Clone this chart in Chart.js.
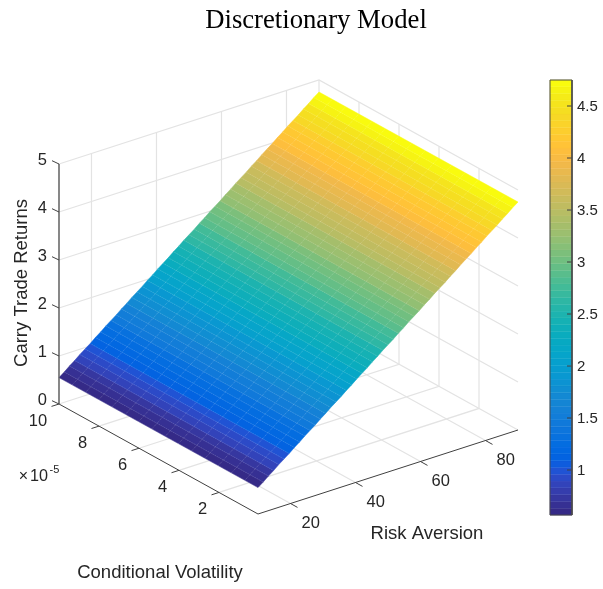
<!DOCTYPE html>
<html><head><meta charset="utf-8">
<style>html,body{margin:0;padding:0;background:#fff}canvas{display:block}</style>
<script src="https://cdn.jsdelivr.net/npm/chart.js@4/dist/chart.umd.js"></script>
</head><body><canvas id="c" width="603" height="589"></canvas>
<script>
// ---- data ----
const riskAversion=[10,11.6,13.2,14.8,16.4,18,19.6,21.2,22.8,24.4,26,27.6,29.2,30.8,32.4,34,35.6,37.2,38.8,40.4,42,43.6,45.2,46.8,48.4,50,51.6,53.2,54.8,56.4,58,59.6,61.2,62.8,64.4,66,67.6,69.2,70.8,72.4,74,75.6,77.2,78.8,80.4,82,83.6,85.2,86.8,88.4,90];
const carryReturns=[0.55,0.63,0.72,0.80,0.89,0.97,1.05,1.14,1.22,1.31,1.39,1.47,1.56,1.64,1.73,1.81,1.89,1.98,2.06,2.15,2.23,2.31,2.40,2.48,2.57,2.65,2.73,2.82,2.90,2.99,3.07,3.15,3.24,3.32,3.41,3.49,3.57,3.66,3.74,3.83,3.91,3.99,4.08,4.16,4.25,4.33,4.41,4.50,4.58,4.67,4.75];
const volatility=[0.05,0.71,1.38,2.04,2.70,3.37,4.03,4.69,5.36,6.02,6.68,7.35,8.01,8.67,9.34,10];
const riskTicks=[20,40,60,80];
const volTicks=[2,4,6,8,10];
const returnTicks=[0,1,2,3,4,5];
const colorTicks=[1,1.5,2,2.5,3,3.5,4,4.5];
const parula=[[.2081,.1663,.5292],[.2116,.1898,.5777],[.2123,.2138,.627],[.2081,.2386,.6771],[.1959,.2645,.7279],[.1707,.2919,.7792],[.1253,.3242,.8303],[.0591,.3598,.8683],[.0117,.3875,.882],[.006,.4086,.8828],[.0165,.4266,.8786],[.0329,.443,.872],[.0498,.4586,.8641],[.0629,.4737,.8554],[.0723,.4887,.8467],[.0779,.504,.8384],[.0793,.52,.8312],[.0749,.5375,.8263],[.0641,.557,.824],[.0488,.5772,.8228],[.0343,.5966,.8199],[.0265,.6137,.8135],[.0239,.6287,.8038],[.0231,.6418,.7913],[.0228,.6535,.7768],[.0267,.6642,.7607],[.0384,.6743,.7436],[.059,.6838,.7254],[.0843,.6928,.7062],[.1133,.7015,.6859],[.1453,.7098,.6646],[.1801,.7177,.6424],[.2178,.725,.6193],[.2586,.7317,.5954],[.3022,.7376,.5712],[.3482,.7424,.5473],[.3953,.7459,.5244],[.442,.7481,.5033],[.4871,.7491,.484],[.53,.7491,.4661],[.5709,.7485,.4494],[.6099,.7473,.4337],[.6473,.7456,.4188],[.6834,.7435,.4044],[.7184,.7411,.3905],[.7525,.7384,.3768],[.7858,.7356,.3633],[.8185,.7327,.3498],[.8507,.7299,.336],[.8824,.7274,.3217],[.9139,.7258,.3063],[.945,.7261,.2886],[.9739,.7314,.2666],[.9938,.7455,.2403],[.999,.7653,.2164],[.9955,.7861,.1967],[.988,.8066,.1794],[.9789,.8271,.1633],[.9697,.8481,.1475],[.9626,.8705,.1309],[.9589,.8949,.1132],[.9598,.9218,.0948],[.9661,.9514,.0755],[.9763,.9831,.0538]];

// ---- axes limits ----
const R0=10,R1=90,V0=0.05,V1=10,Z1=5,CMIN=0.567,CMAX=4.75;
// orthographic view of the 3-D box, onto the chart's x/y scales
const proj=(r,v,z)=>({x:258+(r-R0)*3.25-(v-V0)*20, y:514-(r-R0)*1.05-(v-V0)*11.055-z*48});
const cbY=c=>80+(CMAX-c)*104;
const rgb=c=>`rgb(${c.map(u=>Math.round(u*255)).join(',')})`;
const colorOf=z=>rgb(parula[Math.min(63,Math.max(0,Math.floor((z-CMIN)/(CMAX-CMIN)*64)))]);

const ds=[];
const line=(pts,color,w,dash)=>ds.push({type:'line',data:pts,borderColor:color,borderWidth:w,borderDash:dash||[],pointRadius:0,fill:false,tension:0,clip:false});
// a face: the library places its points, the plugin below closes and fills them
const poly=(pts,color,w)=>ds.push({type:'line',data:pts,face:color,faceStroke:w,borderWidth:0,showLine:false,pointRadius:0,fill:false,tension:0,clip:false});

// grid on floor and back walls
const GRID='#e3e3e3',GW=1.2;
riskTicks.forEach(r=>{line([proj(r,V0,0),proj(r,V1,0),proj(r,V1,Z1)],GRID,GW);});
volTicks.filter(v=>v<V1).forEach(v=>{line([proj(R0,v,0),proj(R1,v,0),proj(R1,v,Z1)],GRID,GW);});
returnTicks.filter(z=>z>0).forEach(z=>{line([proj(R0,V1,z),proj(R1,V1,z),proj(R1,V0,z)],GRID,GW);});
line([proj(R1,V1,0),proj(R1,V1,Z1)],GRID,GW);
line([proj(R0,V1,0),proj(R1,V1,0),proj(R1,V0,0)],GRID,GW);

// surface, one face strip per risk aversion step
for(let i=0;i<riskAversion.length-1;i++){
  const a=riskAversion[i],b=riskAversion[i+1],za=carryReturns[i],zb=carryReturns[i+1];
  poly([proj(a,V0,za),proj(b,V0,zb),proj(b,V1,zb),proj(a,V1,za)],colorOf((za+zb)/2),0.5);
}
// surface mesh
const MESH='rgba(255,255,255,0.2)';
riskAversion.forEach((r,i)=>{ if(i>0&&i<riskAversion.length-1) line([proj(r,V0,carryReturns[i]),proj(r,V1,carryReturns[i])],MESH,0.6,[1,1]); });
volatility.slice(1,-1).forEach(v=>{ line(riskAversion.map((r,i)=>proj(r,v,carryReturns[i])),'rgba(255,255,255,0.32)',0.7,[1,1]); });

// axes and ticks
const AX='#404040';
line([proj(R0,V0,0),proj(R1,V0,0)],AX,1);
line([proj(R0,V0,0),proj(R0,V1,0)],AX,1);
line([proj(R0,V1,0),proj(R0,V1,Z1)],'#555',1.4);
riskTicks.forEach(r=>{const p=proj(r,V0,0);line([p,{x:p.x+7,y:p.y+3.9}],AX,1);});
volTicks.forEach(v=>{const p=proj(R0,v,0);line([p,{x:p.x-7.5,y:p.y+2.4}],AX,1);});
returnTicks.forEach(z=>{const p=proj(R0,V1,z);line([p,{x:p.x-7,y:p.y-3.3}],AX,1);});

// colour bar
parula.forEach((c,i)=>{
  const lo=CMIN+(CMAX-CMIN)*i/64,hi=CMIN+(CMAX-CMIN)*(i+1)/64;
  poly([{x:550,y:cbY(lo)},{x:572,y:cbY(lo)},{x:572,y:cbY(hi)},{x:550,y:cbY(hi)}],rgb(c),0.4);
});
colorTicks.forEach(c=>line([{x:567,y:cbY(c)},{x:572,y:cbY(c)}],AX,1));
line([{x:550,y:cbY(CMIN)},{x:550,y:cbY(CMAX)},{x:572,y:cbY(CMAX)},{x:572,y:cbY(CMIN)},{x:550,y:cbY(CMIN)}],'#4a4a4a',1);

ds.forEach((d,i)=>{d.order=ds.length-i;});

const faces={
  id:'faces',
  afterDatasetDraw(ch,args){
    const d=ch.data.datasets[args.index];
    if(!d.face) return;
    const pts=args.meta.data,c=ch.ctx;
    c.save();c.beginPath();
    pts.forEach((p,i)=>i?c.lineTo(p.x,p.y):c.moveTo(p.x,p.y));
    c.closePath();c.fillStyle=d.face;c.fill();
    c.lineJoin='bevel';c.strokeStyle=d.face;c.lineWidth=d.faceStroke;c.stroke();c.restore();
  }
};

const TXT='#262626', FONT='"Liberation Sans", Arial, sans-serif';
const labels={
  id:'labels3d',
  afterDraw(ch){
    const c=ch.ctx,sx=ch.scales.x,sy=ch.scales.y;
    const X=v=>sx.getPixelForValue(v),Y=v=>sy.getPixelForValue(v);
    const t=(s,x,y,al,size,rot)=>{c.save();c.fillStyle=TXT;c.font=`${size||16.5}px ${FONT}`;c.textAlign=al||'center';c.textBaseline='middle';c.translate(X(x),Y(y));if(rot)c.rotate(rot);c.fillText(s,0,0);c.restore();};
    returnTicks.forEach(z=>{const p=proj(R0,V1,z);t(String(z),p.x-12,p.y-3.5,'right');});
    volTicks.forEach(v=>{const p=proj(R0,v,0);t(String(v),p.x-(v===10?21:16.5),p.y+17);});
    riskTicks.forEach(r=>{const p=proj(r,V0,0);t(String(r),p.x+20.3,p.y+19.5);});
    colorTicks.forEach(v=>t(String(v),577,cbY(v)+1,'left',15));
    t('Carry Trade Returns',22,283,'center',18.5,-Math.PI/2);
    t('Risk Aversion',427,534,'center',18.5);
    t('Conditional Volatility',160,572.5,'center',18.5);
    t('×',23.5,477,'center',16);
    t('10',30,477,'left',16.2);
    t('-5',49.5,470,'left',11);
  }
};

new Chart(document.getElementById('c'),{
  type:'scatter',
  data:{datasets:ds},
  plugins:[faces,labels],
  options:{
    responsive:false,animation:false,events:[],
    layout:{padding:{left:29,right:0,top:0,bottom:0}},
    scales:{
      x:{type:'linear',display:false,min:29,max:603},
      y:{type:'linear',display:false,min:44,max:589,reverse:true}
    },
    plugins:{
      legend:{display:false},tooltip:{enabled:false},
      title:{display:true,text:'Discretionary Model',color:'#000',
        font:{family:'"Liberation Serif", "Times New Roman", serif',size:26.7,weight:'normal',lineHeight:1},
        padding:{top:7.5,bottom:9.8}}
    }
  }
});
</script></body></html>
